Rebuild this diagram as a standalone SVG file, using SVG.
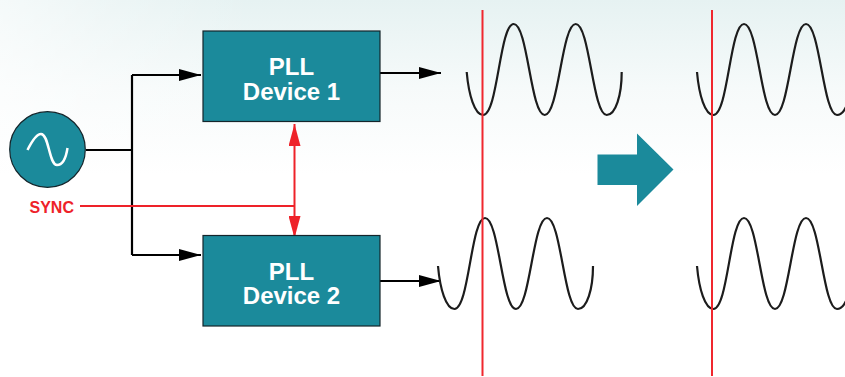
<svg xmlns="http://www.w3.org/2000/svg" width="845" height="377" viewBox="0 0 845 377">
<style>
.box{fill:#1b8a9b;stroke:#14252b;stroke-width:1.2}
.lbl{font-family:"Liberation Sans",Arial,sans-serif;font-weight:700;font-size:24px;fill:#fff;text-anchor:middle}
.blk{fill:none;stroke:#000;stroke-width:2.200}
.red{fill:none;stroke:#ee2229;stroke-width:2}
.wave{fill:none;stroke:#1c1c1c;stroke-width:2.200}
</style>
<defs>
<linearGradient id="bg" x1="0" y1="0" x2="0" y2="1"><stop offset="0" stop-color="#e6f2f2"/><stop offset="0.5" stop-color="#f6fafa"/><stop offset="1" stop-color="#fff"/></linearGradient>
<linearGradient id="fade" x1="0" y1="0" x2="1" y2="0"><stop offset="0" stop-color="#fff" stop-opacity="0.6"/><stop offset="0.12" stop-color="#fff" stop-opacity="0.3"/><stop offset="0.3" stop-color="#fff" stop-opacity="0"/></linearGradient>
<marker id="ab" markerUnits="userSpaceOnUse" markerWidth="22" markerHeight="12" refX="22" refY="6" orient="auto"><path d="M0 0L22 6L0 12Z" fill="#000"/></marker>
<marker id="ar" markerUnits="userSpaceOnUse" markerWidth="22" markerHeight="12" refX="22" refY="6" orient="auto-start-reverse"><path d="M0 0L22 6L0 12Z" fill="#ee2229"/></marker>
<path id="w" d="M0 0C2 23 8 43 16.500 43C31 43 33 -48 47 -48C61 -48 64 43 78 43C92 43 95 -48 109 -48C123 -48 126 43 140 43C149 43 155 23 155 0"/>
</defs>
<rect width="845" height="175" fill="url(#bg)"/>
<rect width="845" height="175" fill="url(#fade)"/>
<g id="connectors">
<path class="blk" d="M86 150H132M132 75V255M132 75H201" marker-end="url(#ab)"/>
<path class="blk" d="M132 255H201" marker-end="url(#ab)"/>
<path class="blk" d="M380 73H441" marker-end="url(#ab)"/>
<path class="blk" d="M380 281H441" marker-end="url(#ab)"/>
<path class="red" d="M80 206H294"/>
<path class="red" d="M294.500 124V238" marker-start="url(#ar)" marker-end="url(#ar)"/>
</g>
<g id="osc"><circle cx="47.500" cy="149.500" r="37.800" class="box"/><path d="M27.500 150C33 139 37 134 41 134C49 134 49 165 57 165C63 165 66 158 67.500 148" fill="none" stroke="#fff" stroke-width="2.500"/></g>
<g id="pll1"><rect class="box" x="203" y="31" width="177" height="90.500"/><text class="lbl" x="291.500" y="74.500">PLL</text><text class="lbl" x="291.500" y="100">Device 1</text></g>
<g id="pll2"><rect class="box" x="203" y="235.500" width="177" height="90.500"/><text class="lbl" x="291.500" y="279.500">PLL</text><text class="lbl" x="291.500" y="304">Device 2</text></g>
<text id="sync" x="29.500" y="213" font-family="'Liberation Sans',Arial,sans-serif" font-weight="700" font-size="16" fill="#ee2229">SYNC</text>
<g id="waves">
<use href="#w" class="wave" x="466.700" y="72"/>
<use href="#w" class="wave" x="438" y="266"/>
<use href="#w" class="wave" x="697" y="72"/>
<use href="#w" class="wave" x="697" y="266"/>
</g>
<g id="markers"><path d="M482.500 10V376M712 10V376" fill="none" stroke="#f0272e" stroke-width="2"/></g>
<path id="bigarrow" d="M597.500 154.500H637V133.500L673.500 169.500L637 206V185H597.500Z" fill="#1b8a9b"/>
</svg>
